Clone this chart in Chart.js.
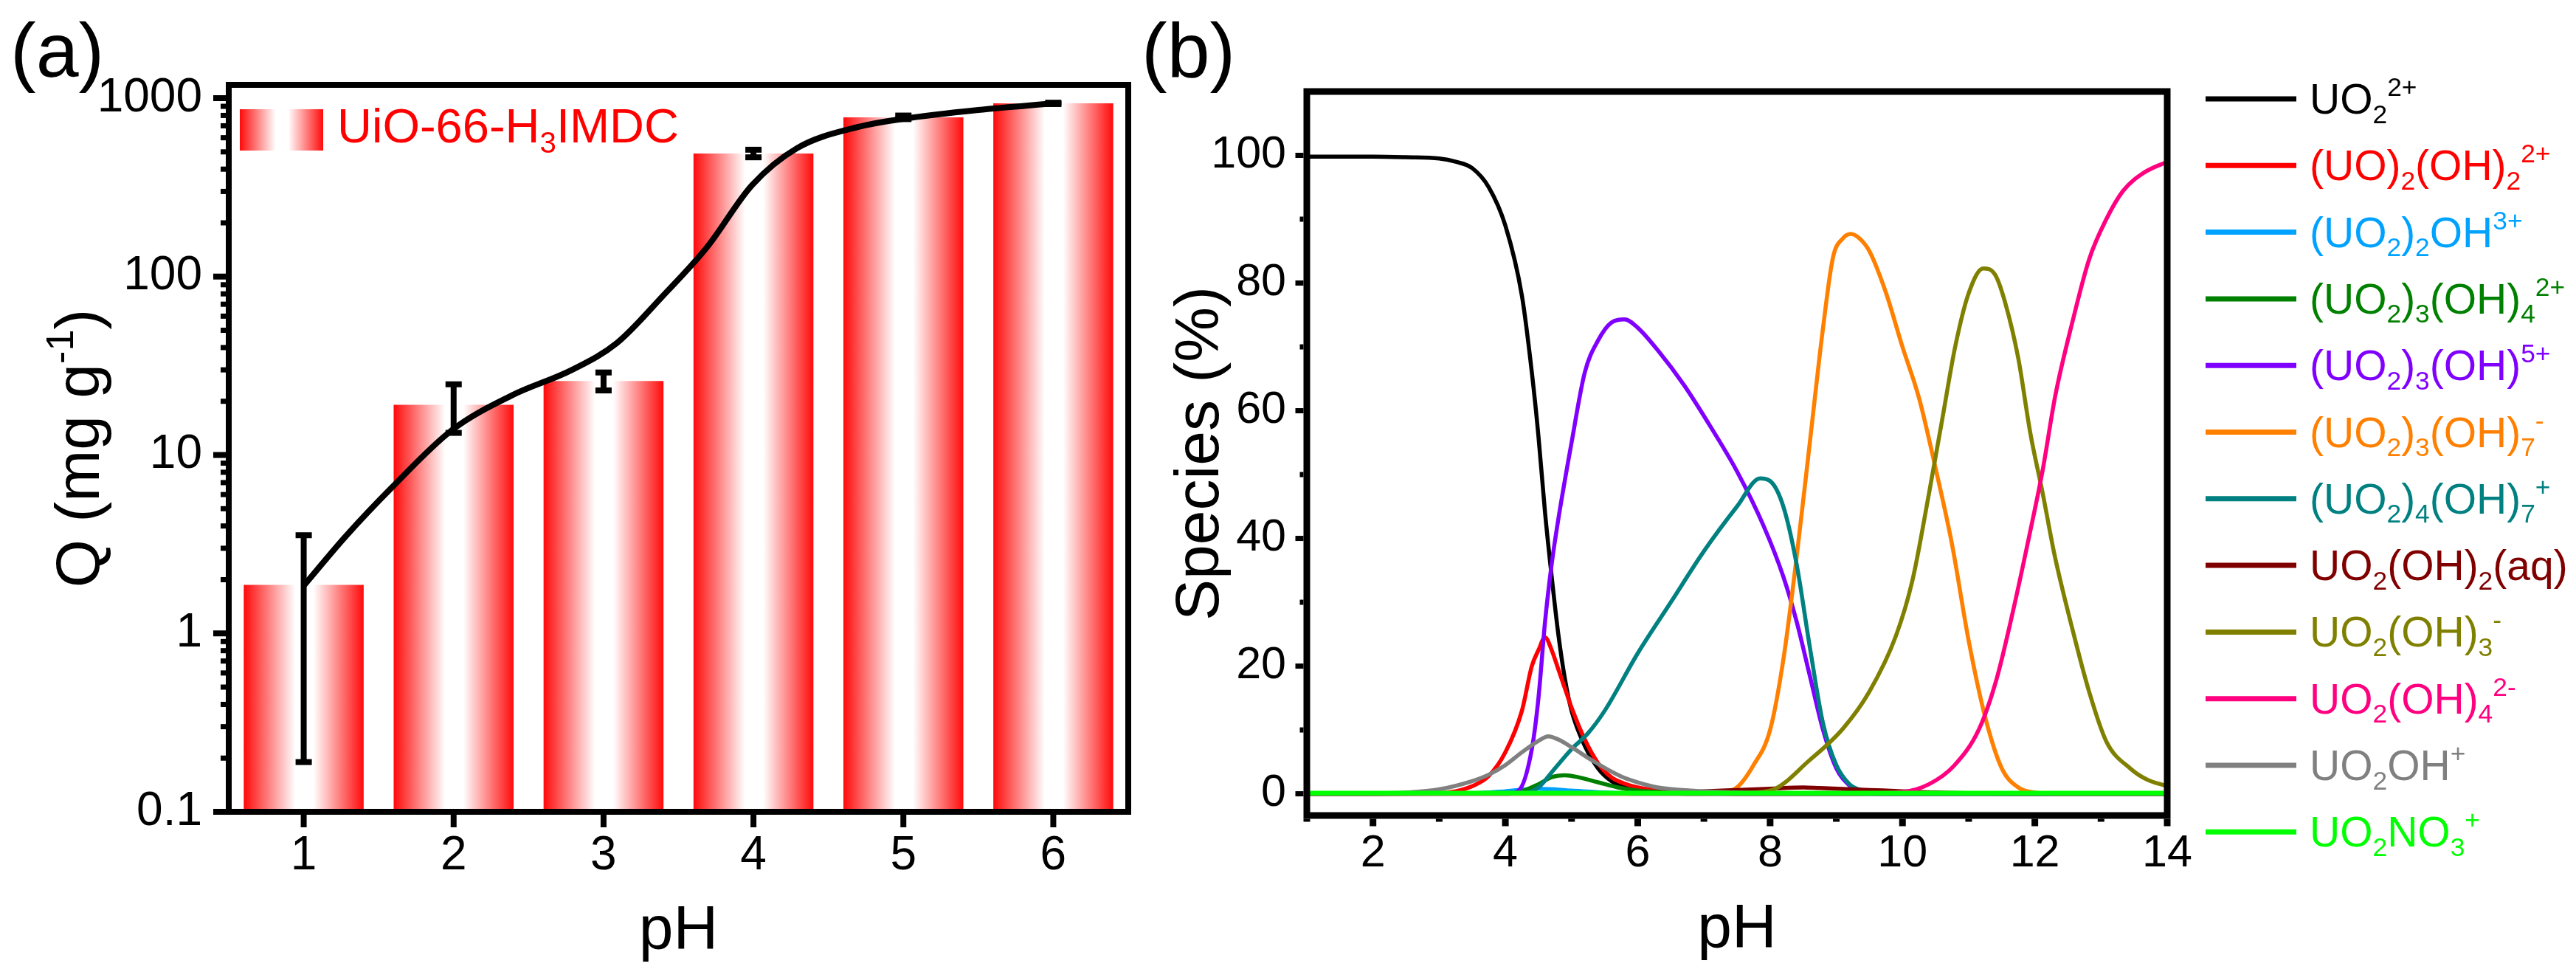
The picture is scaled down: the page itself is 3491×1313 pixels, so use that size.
<!DOCTYPE html>
<html lang="en">
<head>
<meta charset="UTF-8">
<title>Uranium uptake and speciation vs pH</title>
<script src="https://cdn.jsdelivr.net/npm/chart.js@4.4.1/dist/chart.umd.min.js"></script>
<style>
  html, body { margin: 0; padding: 0; background: #fff; }
  #wrap { position: relative; width: 3491px; height: 1313px; }
  canvas { position: absolute; top: 0; }
</style>
</head>
<body>
<div id="wrap">
  <canvas id="chartA" width="1535" height="1313" style="left:0;width:1535px;height:1313px"></canvas>
  <canvas id="chartB" width="1956" height="1313" style="left:1535px;width:1956px;height:1313px"></canvas>
</div>
<script>
// ---- panel (a) data ----
const phA = [1, 2, 3, 4, 5, 6];
const qMean = [1.87, 19.1, 26, 490, 781, 935];
const qErr = [1.68, 5.8, 3.0, 24, 18, 8];
const fitX = [1.0, 1.28, 1.59, 1.99, 2.39, 2.79, 3.09, 3.39, 3.69, 3.99, 4.29, 4.70, 5.0, 5.5, 6.0];
const fitY = [1.85, 3.5, 6.6, 13.8, 21.6, 30, 42.5, 77, 146, 325, 524, 690, 766, 859, 935];
const yTicksA = [0.1, 1, 10, 100, 1000];

// ---- panel (b) data: species distribution (%) ----
const xTicksB = [2, 4, 6, 8, 10, 12, 14];
const yTicksB = [0, 20, 40, 60, 80, 100];

const uo2X = [1, 2, 2.5, 3, 3.25, 3.5, 3.75, 4, 4.25, 4.4, 4.5, 4.6, 4.7, 4.8, 4.9, 5, 5.2, 5.4, 5.6, 5.8, 6, 6.5, 7, 14];
const uo2Y = [99.8, 99.8, 99.7, 99.5, 99, 98, 95, 89, 78, 66, 56, 44, 34, 25, 18, 13, 7.5, 4, 2, 1, 0.5, 0.1, 0, 0];
const uo22oh2X = [1, 3, 3.25, 3.5, 3.75, 4, 4.25, 4.4, 4.5, 4.6, 4.7, 4.8, 4.9, 5, 5.2, 5.4, 5.6, 5.8, 6, 6.5, 7, 8, 14];
const uo22oh2Y = [0, 0.1, 0.4, 1.2, 2.8, 6.5, 13, 20, 22.5, 24.5, 22.5, 19.5, 16.5, 13.5, 8.5, 4.8, 2.6, 1.6, 1.0, 0.3, 0.1, 0, 0];
const uo22ohX = [1, 3.5, 4, 4.5, 5, 5.5, 6, 14];
const uo22ohY = [0, 0.1, 0.4, 0.8, 0.5, 0.2, 0, 0];
const uo23oh4X = [1, 4, 4.25, 4.5, 4.7, 4.9, 5.1, 5.4, 5.7, 6, 6.5, 7, 8, 14];
const uo23oh4Y = [0, 0.1, 0.4, 1.5, 2.6, 2.9, 2.6, 1.8, 1.0, 0.5, 0.2, 0.1, 0, 0];
const uo23oh5X = [1, 4, 4.2, 4.4, 4.5, 4.6, 4.7, 4.8, 5, 5.2, 5.4, 5.6, 5.8, 6, 6.3, 6.7, 7.1, 7.5, 7.9, 8.2, 8.4, 8.6, 8.8, 9, 9.2, 9.4, 9.6, 14];
const uo23oh5Y = [0, 0, 0.5, 7, 15, 27, 36, 43, 55, 66, 71, 73.8, 74.3, 73, 69.5, 64, 57.5, 50.5, 42, 34, 27, 18.5, 10, 4, 1.3, 0.3, 0, 0];
const uo23oh7X = [1, 7, 7.25, 7.5, 7.75, 8, 8.2, 8.4, 8.6, 8.8, 8.95, 9.1, 9.22, 9.35, 9.5, 9.75, 10, 10.25, 10.5, 10.75, 11, 11.25, 11.5, 11.75, 12, 12.5, 14];
const uo23oh7Y = [0, 0, 0.2, 1, 4.5, 10, 21, 37, 55, 73, 84, 87, 87.7, 87, 85, 78.5, 70, 62, 51, 39, 24, 12, 4, 1, 0.2, 0, 0];
const uo24oh7X = [1, 4.3, 4.5, 4.75, 5, 5.25, 5.5, 6, 6.5, 7, 7.5, 7.85, 8, 8.2, 8.4, 8.6, 8.8, 9, 9.2, 9.4, 9.6, 10, 14];
const uo24oh7Y = [0, 0.2, 1, 4, 7, 9.5, 13, 22, 30, 38, 45, 49.4, 49, 45, 36, 23, 11, 4.5, 1.5, 0.5, 0.1, 0, 0];
const uo2oh2X = [1, 6, 7, 7.5, 8, 8.5, 8.75, 9.5, 10, 10.5, 11, 12, 14];
const uo2oh2Y = [0, 0.1, 0.4, 0.6, 0.8, 1.0, 0.9, 0.6, 0.4, 0.2, 0.1, 0, 0];
const uo2oh3X = [1, 7.5, 8, 8.6, 9.1, 9.5, 9.9, 10.15, 10.4, 10.6, 10.8, 11, 11.22, 11.4, 11.55, 11.75, 11.93, 12.12, 12.3, 12.57, 12.82, 13.08, 13.45, 13.7, 14];
const uo2oh3Y = [0, 0.1, 0.5, 5.3, 10.2, 16, 24.7, 33.4, 47, 58.6, 70.2, 78.4, 82.3, 81.3, 77, 68.2, 56.6, 47, 37.3, 25.7, 16, 8.2, 3.9, 2.2, 1.2];
const uo2oh4X = [1, 9, 10, 10.4, 10.78, 11.16, 11.42, 11.67, 11.93, 12.12, 12.31, 12.57, 12.82, 13.08, 13.33, 13.65, 14];
const uo2oh4Y = [0, 0, 0.3, 1.5, 4.4, 10.2, 17.9, 28.6, 41.1, 50.8, 62.4, 74, 83.7, 90, 94.4, 97.3, 99];
const uo2ohX = [1, 2, 2.5, 3, 3.5, 3.75, 4, 4.25, 4.5, 4.65, 4.8, 5, 5.3, 5.6, 5.8, 6, 6.3, 6.8, 7.5, 8, 9, 14];
const uo2ohY = [0, 0.05, 0.2, 0.7, 2, 3, 4.5, 6.5, 8.3, 9, 8.5, 7.3, 5.3, 3.5, 2.5, 1.8, 1.0, 0.5, 0.2, 0.1, 0, 0];
const uo2no3X = [1, 14];
const uo2no3Y = [0.1, 0.1];

const speciesLabels = [
  'UO_{2}^{2+}', '(UO)_{2}(OH)_{2}^{2+}', '(UO_{2})_{2}OH^{3+}', '(UO_{2})_{3}(OH)_{4}^{2+}',
  '(UO_{2})_{3}(OH)^{5+}', '(UO_{2})_{3}(OH)_{7}^{-}', '(UO_{2})_{4}(OH)_{7}^{+}', 'UO_{2}(OH)_{2}(aq)',
  'UO_{2}(OH)_{3}^{-}', 'UO_{2}(OH)_{4}^{2-}', 'UO_{2}OH^{+}', 'UO_{2}NO_{3}^{+}'
];
const speciesColors = ['#000000', '#ff0000', '#00a2ff', '#008000', '#8000ff', '#ff8000',
  '#008080', '#800000', '#808000', '#ff0080', '#808080', '#00ff00'];
const speciesX = [uo2X, uo22oh2X, uo22ohX, uo23oh4X, uo23oh5X, uo23oh7X, uo24oh7X, uo2oh2X, uo2oh3X, uo2oh4X, uo2ohX, uo2no3X];
const speciesY = [uo2Y, uo22oh2Y, uo22ohY, uo23oh4Y, uo23oh5Y, uo23oh7Y, uo24oh7Y, uo2oh2Y, uo2oh3Y, uo2oh4Y, uo2ohY, uo2no3Y];

const FONT = "'Liberation Sans', Arial, sans-serif";

// text with _{sub} and ^{sup}
function parseRich(s) {
  const out = [];
  let i = 0, buf = '';
  while (i < s.length) {
    const c = s[i];
    if ((c === '_' || c === '^') && s[i + 1] === '{') {
      if (buf) { out.push({ t: buf, m: 0 }); buf = ''; }
      const j = s.indexOf('}', i);
      out.push({ t: s.slice(i + 2, j), m: c === '_' ? 1 : 2 });
      i = j + 1;
    } else { buf += c; i++; }
  }
  if (buf) out.push({ t: buf, m: 0 });
  return out;
}
function richWidth(ctx, s, size) {
  let w = 0;
  for (const p of parseRich(s)) {
    ctx.font = (p.m ? size * 0.62 : size) + 'px ' + FONT;
    w += ctx.measureText(p.t).width;
  }
  return w;
}
function drawRich(ctx, s, x, y, size, color) {
  ctx.save();
  ctx.fillStyle = color;
  ctx.textAlign = 'left';
  ctx.textBaseline = 'alphabetic';
  let cx = x;
  for (const p of parseRich(s)) {
    ctx.font = (p.m ? size * 0.62 : size) + 'px ' + FONT;
    const dy = p.m === 1 ? size * 0.22 : p.m === 2 ? -size * 0.42 : 0;
    ctx.fillText(p.t, cx, y + dy);
    cx += ctx.measureText(p.t).width;
  }
  ctx.restore();
}

function barGradient(ctx, x0, x1) {
  const g = ctx.createLinearGradient(x0, 0, x1, 0);
  g.addColorStop(0, 'rgb(255,10,10)');
  g.addColorStop(0.43, '#ffffff');
  g.addColorStop(0.58, '#ffffff');
  g.addColorStop(1, 'rgb(255,10,10)');
  return g;
}

// ---------- chart (a) ----------
const decorA = {
  id: 'decorA',
  afterDatasetDraw(chart, args) {
    if (args.index !== 0) return;
    const ctx = chart.ctx, xs = chart.scales.x, ys = chart.scales.y;
    ctx.save();
    ctx.fillStyle = '#000';
    qMean.forEach((m, i) => {
      const cx = xs.getPixelForValue(phA[i]);
      const top = ys.getPixelForValue(m + qErr[i]);
      const bot = ys.getPixelForValue(Math.max(m - qErr[i], 0.1));
      ctx.fillRect(cx - 4, top, 8, bot - top);
      ctx.fillRect(cx - 11, top - 4, 22, 8);
      ctx.fillRect(cx - 11, bot - 4, 22, 8);
    });
    ctx.restore();
  },
  afterDraw(chart) {
    const ctx = chart.ctx, a = chart.chartArea, xs = chart.scales.x, ys = chart.scales.y;
    ctx.save();
    ctx.strokeStyle = '#000';
    ctx.lineWidth = 8;
    ctx.strokeRect(a.left, a.top, a.right - a.left, a.bottom - a.top);
    ctx.fillStyle = '#000';
    // y ticks (log): major at decades, minor 2..9
    for (let d = -1; d <= 3; d++) {
      const base = Math.pow(10, d);
      const yp = ys.getPixelForValue(base);
      ctx.fillRect(a.left - 4 - 17, yp - 4, 17, 8);
      if (d === 3) continue;
      for (let k = 2; k <= 9; k++) {
        const ym = ys.getPixelForValue(k * base);
        ctx.fillRect(a.left - 4 - 7, ym - 3.5, 7, 7);
      }
    }
    // x ticks
    phA.forEach((v) => {
      const xp = xs.getPixelForValue(v);
      ctx.fillRect(xp - 4, a.bottom + 4, 8, 17);
    });
    // titles
    ctx.font = '84px ' + FONT;
    ctx.textAlign = 'center';
    ctx.textBaseline = 'alphabetic';
    ctx.fillText('pH', (a.left + a.right) / 2, 1286);
    ctx.textAlign = 'left';
    ctx.font = '104px ' + FONT;
    ctx.fillText('(a)', 14, 104);
    ctx.restore();
    // y title, rotated
    const yt = 'Q (mg g^{-1})';
    ctx.save();
    ctx.translate(134, (a.top + a.bottom) / 2);
    ctx.rotate(-Math.PI / 2);
    const w = richWidth(ctx, yt, 84);
    drawRich(ctx, yt, -w / 2, 0, 84, '#000');
    ctx.restore();
    // legend
    ctx.save();
    ctx.fillStyle = barGradient(ctx, 325, 438);
    ctx.fillRect(325, 148, 113, 56);
    ctx.restore();
    drawRich(ctx, 'UiO-66-H_{3}IMDC', 457, 193, 65, '#ff0000');
  }
};

new Chart(document.getElementById('chartA'), {
  type: 'bar',
  data: {
    datasets: [{
      type: 'bar',
      label: 'UiO-66-H3IMDC',
      data: phA.map((x, i) => ({ x: x, y: qMean[i] })),
      barPercentage: 0.8,
      categoryPercentage: 1.0,
      grouped: false,
      borderWidth: 0,
      order: 2,
      backgroundColor: (c) => {
        const ch = c.chart, xs = ch.scales.x;
        if (!xs || c.type !== 'data') return 'red';
        const cx = xs.getPixelForValue(phA[c.dataIndex]);
        const w = (xs.getPixelForValue(2) - xs.getPixelForValue(1)) * 0.8;
        if (!isFinite(cx) || !isFinite(w) || w <= 0) return 'red';
        return barGradient(ch.ctx, cx - w / 2, cx + w / 2);
      }
    }, {
      type: 'line',
      label: 'fit',
      data: fitX.map((x, i) => ({ x: x, y: fitY[i] })),
      borderColor: '#000',
      borderWidth: 8,
      pointRadius: 0,
      fill: false,
      cubicInterpolationMode: 'monotone',
      order: 1
    }]
  },
  options: {
    responsive: false,
    devicePixelRatio: 1,
    animation: false,
    layout: { padding: { left: 0, top: 115, right: 6, bottom: 0 } },
    plugins: { legend: { display: false }, tooltip: { enabled: false } },
    scales: {
      x: {
        type: 'linear',
        min: 0.5,
        max: 6.5,
        offset: false,
        grid: { display: false, drawTicks: false, offset: false },
        border: { display: false },
        afterBuildTicks(s) { s.ticks = phA.map(v => ({ value: v })); },
        ticks: { color: '#000', font: { family: FONT, size: 64 }, padding: 22, callback: (v) => String(v) },
        afterFit(s) { s.height = 213; }
      },
      y: {
        type: 'logarithmic',
        min: 0.1,
        max: 1187,
        grid: { display: false, drawTicks: false },
        border: { display: false },
        afterBuildTicks(s) { s.ticks = yTicksA.map(v => ({ value: v })); },
        ticks: { color: '#000', font: { family: FONT, size: 64 }, padding: 36, callback: (v) => String(v) },
        afterFit(s) { s.width = 310; }
      }
    }
  },
  plugins: [decorA]
});

// ---------- chart (b) ----------
const decorB = {
  id: 'decorB',
  afterDraw(chart) {
    const ctx = chart.ctx, a = chart.chartArea, xs = chart.scales.x, ys = chart.scales.y;
    ctx.save();
    ctx.strokeStyle = '#000';
    ctx.lineWidth = 9;
    ctx.strokeRect(a.left, a.top, a.right - a.left, a.bottom - a.top);
    ctx.fillStyle = '#000';
    for (let v = 0; v <= 100; v += 10) {
      const yp = ys.getPixelForValue(v);
      const len = v % 20 === 0 ? 11 : 5;
      ctx.fillRect(a.left - 4.5 - len, yp - 3.5, len, 7);
    }
    for (let v = 1; v <= 14; v++) {
      const xp = xs.getPixelForValue(v);
      const len = v % 2 === 0 ? 10 : 4;
      ctx.fillRect(xp - 4.5, a.bottom + 4.5, 9, len);
    }
    ctx.font = '84px ' + FONT;
    ctx.textAlign = 'center';
    ctx.textBaseline = 'alphabetic';
    ctx.fillText('pH', (a.left + a.right) / 2, 1284);
    ctx.save();
    ctx.translate(116, (a.top + a.bottom) / 2);
    ctx.rotate(-Math.PI / 2);
    ctx.fillText('Species (%)', 0, 0);
    ctx.restore();
    ctx.textAlign = 'left';
    ctx.font = '104px ' + FONT;
    ctx.fillText('(b)', 12, 104);
    // legend
    speciesLabels.forEach((lab, i) => {
      const yy = 134 + 90.3 * i;
      ctx.strokeStyle = speciesColors[i];
      ctx.lineWidth = 7;
      ctx.beginPath();
      ctx.moveTo(1454, yy);
      ctx.lineTo(1577, yy);
      ctx.stroke();
      drawRich(ctx, lab, 1595, yy + 20, 57, speciesColors[i]);
    });
    ctx.restore();
  }
};

new Chart(document.getElementById('chartB'), {
  type: 'line',
  data: {
    datasets: speciesLabels.map((lab, i) => ({
      label: lab,
      data: speciesX[i].map((x, k) => ({ x: x, y: speciesY[i][k] })),
      borderColor: speciesColors[i],
      borderWidth: i === 11 ? 6.5 : 5.5,
      pointRadius: 0,
      fill: false,
      cubicInterpolationMode: 'monotone',
      order: 12 - i
    }))
  },
  options: {
    responsive: false,
    devicePixelRatio: 1,
    animation: false,
    layout: { padding: { left: 0, top: 124, right: 554, bottom: 0 } },
    plugins: { legend: { display: false }, tooltip: { enabled: false } },
    scales: {
      x: {
        type: 'linear',
        min: 1,
        max: 14,
        grid: { display: false, drawTicks: false },
        border: { display: false },
        afterBuildTicks(s) { s.ticks = xTicksB.map(v => ({ value: v })); },
        ticks: { color: '#000', font: { family: FONT, size: 61 }, padding: 16 },
        afterFit(s) { s.height = 208; }
      },
      y: {
        type: 'linear',
        min: -3.4,
        max: 110,
        grid: { display: false, drawTicks: false },
        border: { display: false },
        afterBuildTicks(s) { s.ticks = yTicksB.map(v => ({ value: v })); },
        ticks: { color: '#000', font: { family: FONT, size: 61 }, padding: 28 },
        afterFit(s) { s.width = 236; }
      }
    }
  },
  plugins: [decorB]
});
</script>
</body>
</html>
